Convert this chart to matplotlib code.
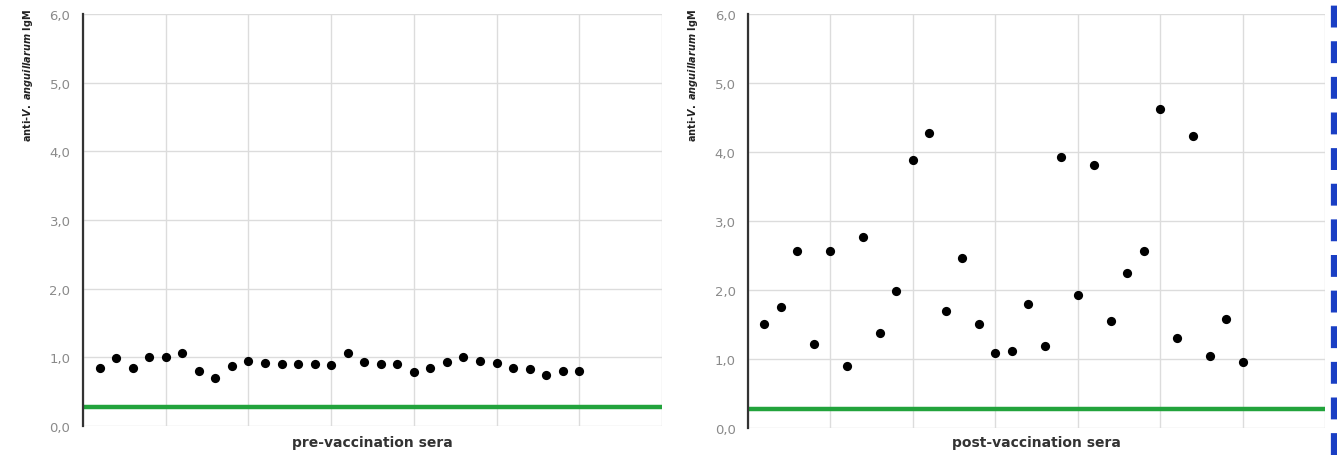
import numpy as np
import matplotlib
matplotlib.use("Agg")
import matplotlib.pyplot as plt
from matplotlib.lines import Line2D

plt.rcParams['font.family'] = ['DejaVu Sans']
plt.rcParams['mathtext.fontset'] = 'custom'
plt.rcParams['mathtext.it'] = 'DejaVu Sans:italic:bold'
plt.rcParams['mathtext.rm'] = 'DejaVu Sans:bold'

# sample index 1..30
pre_sera = [0.85, 0.99, 0.84, 1.00, 1.01, 1.07, 0.80, 0.70, 0.88, 0.94,
            0.92, 0.90, 0.91, 0.90, 0.89, 1.07, 0.93, 0.90, 0.90, 0.78,
            0.84, 0.93, 1.01, 0.94, 0.92, 0.84, 0.83, 0.74, 0.80, 0.80]
post_sera = [1.51, 1.75, 2.56, 1.22, 2.56, 0.90, 2.77, 1.37, 1.98, 3.88,
             4.27, 1.69, 2.46, 1.51, 1.09, 1.12, 1.79, 1.19, 3.93, 1.93,
             3.81, 1.55, 2.24, 2.57, 4.63, 1.31, 4.23, 1.04, 1.58, 0.96]
cutoff = 0.28
xlabels = ["pre-vaccination sera", "post-vaccination sera"]
ylabel = r"anti-$\mathit{V.\ anguillarum}$ IgM"
yticks = [0, 1, 2, 3, 4, 5, 6]

fig = plt.figure(figsize=(13.37, 4.56), dpi=100)
W, H = 1337, 456

def panel(left, right, top, bottom, values, xlab):
    ax = fig.add_axes([left / W, 1 - bottom / H, (right - left) / W, (bottom - top) / H])
    x = np.arange(1, len(values) + 1)
    ax.scatter(x, values, s=44, color='black', zorder=4, linewidths=0)
    ax.axhline(cutoff, color='#22a33c', lw=3.2, zorder=3)
    ax.set_xlim(0, 35)
    ax.set_ylim(0, 6)
    ax.set_xticks(np.arange(0, 36, 5))
    ax.set_xticklabels([])
    ax.set_yticks(yticks)
    ax.set_yticklabels([("%.1f" % v).replace('.', ',') for v in yticks],
                       color='#8a8a8a', fontsize=9.5)
    ax.tick_params(length=0, pad=9)
    ax.grid(True, color='#dcdcdc', lw=1)
    ax.set_axisbelow(True)
    for s in ['top', 'right', 'bottom']:
        ax.spines[s].set_visible(False)
    ax.spines['left'].set_color('#333333')
    ax.spines['left'].set_linewidth(1.6)
    ax.spines['left'].set_zorder(5)
    ax.set_xlabel(xlab, fontsize=10, fontweight='bold', color='#333333', va='center')
    px = (bottom - top)
    ax.xaxis.set_label_coords(0.5, -(443 - bottom) / px)
    ax.set_ylabel(ylabel, fontsize=7, fontweight='bold', color='#222222', va='center')
    ax.yaxis.set_label_coords(-(left - 28 - (left - 83)) / (right - left), (bottom - 76) / px)
    return ax

panel(83, 662, 15, 427, pre_sera, xlabels[0])
panel(748, 1325, 15, 429, post_sera, xlabels[1])

# blue dashed border on the right edge
fig.add_artist(Line2D([1334 / W, 1334 / W], [0, 1], color='#1a3fc4', lw=4.5,
                      linestyle=(0, (3.5, 2.2))))

fig.savefig("out.png", dpi=100)
